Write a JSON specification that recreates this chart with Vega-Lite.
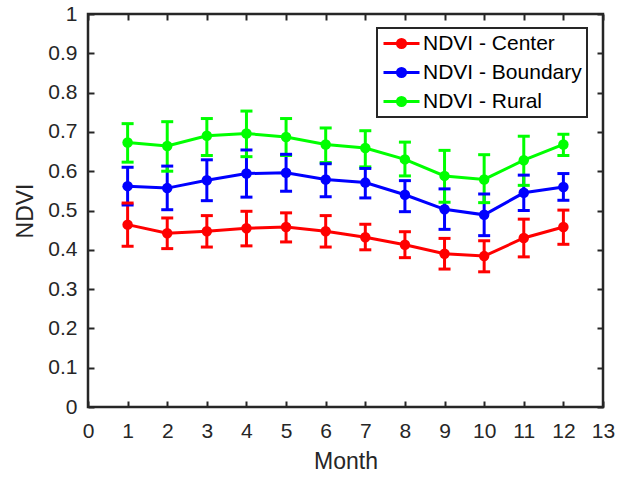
{
  "$schema": "https://vega.github.io/schema/vega-lite/v6.json",
  "width": 515,
  "height": 393,
  "autosize": {"type": "none"},
  "padding": {"left": 88, "top": 14, "right": 30, "bottom": 71},
  "background": "white",
  "config": {
    "font": "Liberation Sans",
    "view": {"stroke": "#262626", "strokeWidth": 2.5},
    "axis": {
      "domain": false,
      "tickColor": "#262626",
      "tickSize": -6,
      "tickWidth": 2,
      "gridColor": "#dddddd",
      "gridWidth": 2,
      "labelFont": "Liberation Sans",
      "labelFontSize": 21,
      "labelColor": "#262626",
      "titleFont": "Liberation Sans",
      "titleFontSize": 23,
      "titleFontWeight": "normal",
      "titleColor": "#262626"
    }
  },
  "data": {
    "values": [
      {"month": 1, "series": "NDVI - Center", "mean": 0.464, "lo": 0.409, "hi": 0.519},
      {"month": 2, "series": "NDVI - Center", "mean": 0.442, "lo": 0.403, "hi": 0.481},
      {"month": 3, "series": "NDVI - Center", "mean": 0.447, "lo": 0.407, "hi": 0.487},
      {"month": 4, "series": "NDVI - Center", "mean": 0.455, "lo": 0.410, "hi": 0.498},
      {"month": 5, "series": "NDVI - Center", "mean": 0.458, "lo": 0.420, "hi": 0.494},
      {"month": 6, "series": "NDVI - Center", "mean": 0.447, "lo": 0.407, "hi": 0.487},
      {"month": 7, "series": "NDVI - Center", "mean": 0.432, "lo": 0.400, "hi": 0.465},
      {"month": 8, "series": "NDVI - Center", "mean": 0.413, "lo": 0.380, "hi": 0.446},
      {"month": 9, "series": "NDVI - Center", "mean": 0.390, "lo": 0.351, "hi": 0.429},
      {"month": 10, "series": "NDVI - Center", "mean": 0.384, "lo": 0.344, "hi": 0.423},
      {"month": 11, "series": "NDVI - Center", "mean": 0.430, "lo": 0.382, "hi": 0.478},
      {"month": 12, "series": "NDVI - Center", "mean": 0.458, "lo": 0.414, "hi": 0.501},
      {"month": 1, "series": "NDVI - Boundary", "mean": 0.562, "lo": 0.514, "hi": 0.610},
      {"month": 2, "series": "NDVI - Boundary", "mean": 0.557, "lo": 0.502, "hi": 0.613},
      {"month": 3, "series": "NDVI - Boundary", "mean": 0.577, "lo": 0.525, "hi": 0.629},
      {"month": 4, "series": "NDVI - Boundary", "mean": 0.594, "lo": 0.534, "hi": 0.654},
      {"month": 5, "series": "NDVI - Boundary", "mean": 0.596, "lo": 0.549, "hi": 0.643},
      {"month": 6, "series": "NDVI - Boundary", "mean": 0.579, "lo": 0.535, "hi": 0.619},
      {"month": 7, "series": "NDVI - Boundary", "mean": 0.571, "lo": 0.532, "hi": 0.607},
      {"month": 8, "series": "NDVI - Boundary", "mean": 0.540, "lo": 0.497, "hi": 0.576},
      {"month": 9, "series": "NDVI - Boundary", "mean": 0.503, "lo": 0.452, "hi": 0.555},
      {"month": 10, "series": "NDVI - Boundary", "mean": 0.489, "lo": 0.436, "hi": 0.542},
      {"month": 11, "series": "NDVI - Boundary", "mean": 0.545, "lo": 0.500, "hi": 0.590},
      {"month": 12, "series": "NDVI - Boundary", "mean": 0.560, "lo": 0.526, "hi": 0.594},
      {"month": 1, "series": "NDVI - Rural", "mean": 0.673, "lo": 0.623, "hi": 0.721},
      {"month": 2, "series": "NDVI - Rural", "mean": 0.664, "lo": 0.600, "hi": 0.726},
      {"month": 3, "series": "NDVI - Rural", "mean": 0.690, "lo": 0.640, "hi": 0.734},
      {"month": 4, "series": "NDVI - Rural", "mean": 0.696, "lo": 0.637, "hi": 0.753},
      {"month": 5, "series": "NDVI - Rural", "mean": 0.687, "lo": 0.640, "hi": 0.734},
      {"month": 6, "series": "NDVI - Rural", "mean": 0.668, "lo": 0.622, "hi": 0.710},
      {"month": 7, "series": "NDVI - Rural", "mean": 0.659, "lo": 0.611, "hi": 0.703},
      {"month": 8, "series": "NDVI - Rural", "mean": 0.630, "lo": 0.588, "hi": 0.674},
      {"month": 9, "series": "NDVI - Rural", "mean": 0.588, "lo": 0.521, "hi": 0.653},
      {"month": 10, "series": "NDVI - Rural", "mean": 0.579, "lo": 0.520, "hi": 0.642},
      {"month": 11, "series": "NDVI - Rural", "mean": 0.628, "lo": 0.564, "hi": 0.689},
      {"month": 12, "series": "NDVI - Rural", "mean": 0.668, "lo": 0.640, "hi": 0.694}
    ]
  },
  "resolve": {"axis": {"x": "independent", "y": "independent"}},
  "layer": [
    {
      "mark": {"type": "rule", "strokeWidth": 3},
      "encoding": {
        "x": {"field": "month", "type": "quantitative", "scale": {"domain": [0, 13], "nice": false}, "axis": null},
        "y": {"field": "lo", "type": "quantitative", "scale": {"domain": [0, 1], "nice": false}, "axis": null},
        "y2": {"field": "hi"},
        "color": {"field": "series", "type": "nominal",
          "scale": {"domain": ["NDVI - Center", "NDVI - Boundary", "NDVI - Rural"], "range": ["#ff0000", "#0000ff", "#00ff00"]}}
      }
    },
    {
      "mark": {"type": "tick", "orient": "horizontal", "size": 12, "thickness": 3, "opacity": 1},
      "encoding": {
        "x": {"field": "month", "type": "quantitative", "axis": null},
        "y": {"field": "lo", "type": "quantitative", "axis": null},
        "color": {"field": "series", "type": "nominal"}
      }
    },
    {
      "mark": {"type": "tick", "orient": "horizontal", "size": 12, "thickness": 3, "opacity": 1},
      "encoding": {
        "x": {"field": "month", "type": "quantitative", "axis": null},
        "y": {"field": "hi", "type": "quantitative", "axis": null},
        "color": {"field": "series", "type": "nominal"}
      }
    },
    {
      "mark": {"type": "line", "strokeWidth": 3},
      "encoding": {
        "x": {"field": "month", "type": "quantitative", "title": "Month",
          "axis": {"orient": "bottom", "values": [0,1,2,3,4,5,6,7,8,9,10,11,12,13], "labelPadding": 19, "titlePadding": 9, "labelFlush": false, "labelFontSize": 21, "titleFontSize": 23}},
        "y": {"field": "mean", "type": "quantitative", "title": "NDVI",
          "axis": {"orient": "left", "values": [0,0.1,0.2,0.3,0.4,0.5,0.6,0.7,0.8,0.9,1], "format": "~g", "labelPadding": 17, "titlePadding": 10, "labelFlush": false, "labelFontSize": 21, "titleFontSize": 23}},
        "color": {"field": "series", "type": "nominal",
          "legend": {
            "title": null,
            "orient": "none",
            "legendX": 289,
            "legendY": 14,
            "direction": "vertical",
            "fillColor": "white",
            "strokeColor": "#262626",
            "padding": 5,
            "labelFont": "Liberation Sans",
            "labelFontSize": 21,
            "labelColor": "#000000",
            "symbolType": "M-2,0L2,0M-0.45,0A0.45,0.45,0,1,1,0.45,0A0.45,0.45,0,1,1,-0.45,0Z",
            "symbolSize": 324,
            "symbolStrokeWidth": 3,
            "symbolOffset": 9,
            "labelOffset": 11,
            "rowPadding": 7,
            "encode": {
              "legend": {"update": {"strokeWidth": {"value": 2}}},
              "symbols": {"update": {"fill": {"scale": "color", "field": "value"}, "fillOpacity": {"value": 1}}}
            }
          }}
      }
    },
    {
      "mark": {"type": "point", "shape": "circle", "filled": true, "size": 110, "opacity": 1},
      "encoding": {
        "x": {"field": "month", "type": "quantitative",
          "axis": {"orient": "top", "values": [0,1,2,3,4,5,6,7,8,9,10,11,12,13], "labels": false, "title": null, "grid": false}},
        "y": {"field": "mean", "type": "quantitative",
          "axis": {"orient": "right", "values": [0,0.1,0.2,0.3,0.4,0.5,0.6,0.7,0.8,0.9,1], "labels": false, "title": null, "grid": false}},
        "color": {"field": "series", "type": "nominal"}
      }
    }
  ]
}
